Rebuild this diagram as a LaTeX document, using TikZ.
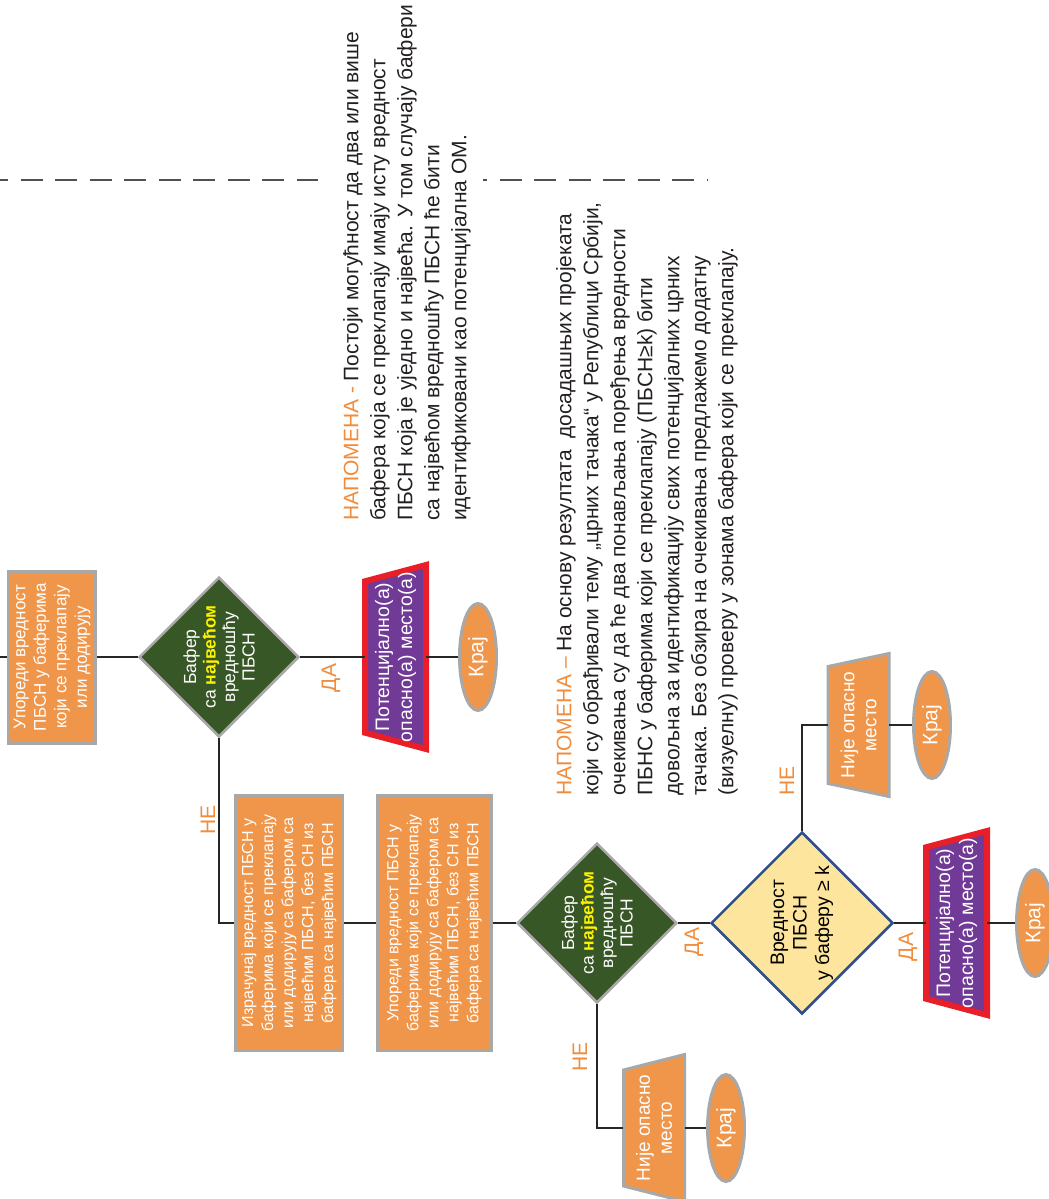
\documentclass[tikz,border=0pt]{standalone}
\usepackage{fontspec}
\setmainfont{Liberation Sans}
\usetikzlibrary{shapes.geometric,calc}
\definecolor{boxorange}{RGB}{240,150,74}
\definecolor{bordergray}{RGB}{168,168,168}
\definecolor{dgreen}{RGB}{56,87,38}
\definecolor{hlyellow}{RGB}{255,242,0}
\definecolor{lyellow}{RGB}{253,229,158}
\definecolor{navy}{RGB}{47,80,143}
\definecolor{ppurple}{RGB}{112,58,150}
\definecolor{pred}{RGB}{232,30,40}
\definecolor{lblorange}{RGB}{240,140,60}
\definecolor{notegray}{RGB}{35,31,32}
\definecolor{dashgray}{RGB}{80,80,80}
\begin{document}
\begin{tikzpicture}[x=1pt,y=-1pt,
  procbox/.style={rectangle, rotate=90, fill=boxorange, draw=bordergray, line width=3pt,
    text=white, align=center, inner sep=0pt, font=\fontsize{16}{20}\selectfont},
  greendia/.style={diamond, rotate=90, fill=dgreen, draw=bordergray, line width=2.5pt,
    inner sep=0pt, minimum width=160pt, minimum height=160pt},
  yelldia/.style={diamond, rotate=90, fill=lyellow, draw=navy, line width=2.5pt,
    inner sep=0pt, minimum width=182pt, minimum height=182pt},
  diatext/.style={rotate=90, align=center, inner sep=0pt},
  redshape/.style={fill=ppurple, draw=pred, line width=6pt, line join=miter},
  orangeshape/.style={fill=boxorange, draw=bordergray, line width=3pt, line join=miter},
  traptext/.style={rectangle, rotate=90, text=white, align=center, inner sep=0pt, minimum height=61pt},
  endell/.style={ellipse, rotate=90, fill=boxorange, draw=bordergray, line width=3pt,
    text=white, inner sep=0pt, minimum width=107pt, minimum height=37pt,
    font=\fontsize{21}{24}\selectfont},
  conn/.style={line width=1.5pt, draw=black!85},
  lbl/.style={rotate=90, text=lblorange, inner sep=0pt, font=\fontsize{21}{24}\selectfont},
  notetext/.style={rotate=90, anchor=north west, align=left, inner sep=0pt, text=notegray,
    font=\fontsize{21}{27}\selectfont},
  dashln/.style={line width=1.5pt, draw=dashgray, dash pattern=on 22pt off 12.5pt}
]
\useasboundingbox (0,0) rectangle (1049,1199);

% dashed separator
\coordinate (dA) at (0,180);
\coordinate (dB) at (318,180);
\coordinate (dC) at (483,180);
\coordinate (dD) at (707,180);
\draw[dashln, dash phase=14pt] (dA) -- (dB);
\draw[dashln, dash phase=18pt] (dC) -- (dD);

% notes
\node[notetext] (note1) at (343,521) {{\color{lblorange}НАПОМЕНА -} Постоји могућност да два или више\\
бафера која се преклапају имају исту вредност\\
ПБСН која је уједно и највећа. У том случају бафери\\
са највећом вредношћу ПБСН ће бити\\
идентификовани као потенцијална ОМ.};

\node[notetext] (note2) at (556,796) {{\color{lblorange}НАПОМЕНА –} На основу резултата\ \ досадашњих пројеката\\
који су обрађивали тему „црних тачака“ у Републици Србији,\\
очекивања су да ће два понављања поређења вредности\\
ПБНС у баферима који се преклапају (ПБСН≥k) бити\\
довољна за идентификацију свих потенцијалних црних\\
тачака. Без обзира на очекивања предлажемо додатну\\
(визуелну) проверу у зонама бафера који се преклапају.};

% trapezoid centres and outlines
\coordinate (p1c) at (395.5,657);
\coordinate (p2c) at (956.5,923);
\coordinate (t1c) at (654,1128);
\coordinate (t2c) at (858.5,725);
\draw[redshape] ($(p1c)+(-30.5,-75.7)$) -- ($(p1c)+(30.5,-92)$) -- ($(p1c)+(30.5,92)$) -- ($(p1c)+(-30.5,75.7)$) -- cycle;
\draw[redshape] ($(p2c)+(-30.5,-75.7)$) -- ($(p2c)+(30.5,-92)$) -- ($(p2c)+(30.5,92)$) -- ($(p2c)+(-30.5,75.7)$) -- cycle;
\draw[orangeshape] ($(t1c)+(-30.5,-58)$) -- ($(t1c)+(30.5,-73.5)$) -- ($(t1c)+(30.5,73.5)$) -- ($(t1c)+(-30.5,58)$) -- cycle;
\draw[orangeshape] ($(t2c)+(-30.5,-58.5)$) -- ($(t2c)+(30.5,-71.5)$) -- ($(t2c)+(30.5,71.5)$) -- ($(t2c)+(-30.5,58.5)$) -- cycle;

% upper row
\coordinate (in0) at (0,657);
\node[procbox, minimum width=172pt, minimum height=87pt, font=\fontsize{17}{20.5}\selectfont] (b1) at (52,657)
  {Упореди вредност\\ПБСН у баферима\\који се преклапају\\или додирују};
\node[greendia] (d1) at (219,657) {};
\node[diatext, text=white, font=\fontsize{17.5}{19.5}\selectfont] (d1t) at (d1)
  {Бафер\\са {\bfseries\color{hlyellow}највећом}\\вредношћу\\ПБСН};
\node[traptext, minimum width=150pt, font=\fontsize{19.5}{23}\selectfont] (p1) at (p1c)
  {Потенцијално(а)\\опасно(а) место(а)};
\node[endell] (k1) at (478,657) {Крај};

% lower row
\node[procbox, minimum width=255pt, minimum height=107pt] (b2) at (289,923)
  {Израчунај вредност ПБСН у\\баферима који се преклапају\\или додирују са бафером са\\највећим ПБСН, без СН из\\бафера са највећим ПБСН};
\node[procbox, minimum width=255pt, minimum height=114pt] (b3) at (434.5,923)
  {Упореди вредност ПБСН у\\баферима који се преклапају\\или додирују са бафером са\\највећим ПБСН, без СН из\\бафера са највећим ПБСН};
\node[greendia] (d2) at (597,923) {};
\node[diatext, text=white, font=\fontsize{17.5}{19.5}\selectfont] (d2t) at (d2)
  {Бафер\\са {\bfseries\color{hlyellow}највећом}\\вредношћу\\ПБСН};
\node[yelldia] (d3) at (802,923) {};
\node[diatext, text=black, font=\fontsize{19.5}{22.5}\selectfont] (d3t) at (d3)
  {Вредност\\ПБСН\\у баферу ≥ k};
\node[traptext, minimum width=150pt, font=\fontsize{19.5}{23}\selectfont] (p2) at (p2c)
  {Потенцијално(а)\\опасно(а) место(а)};
\node[endell] (k4) at (1035,923) {Крај};

\node[traptext, minimum width=116pt, font=\fontsize{19}{22}\selectfont] (t1) at (t1c)
  {Није опасно\\место};
\node[endell] (k2) at (726,1128) {Крај};

\node[traptext, minimum width=116pt, font=\fontsize{19}{22}\selectfont] (t2) at (t2c)
  {Није опасно\\место};
\node[endell] (k3) at (932,725) {Крај};

% connectors
\draw[conn] (in0) -- (b1);
\draw[conn] (b1) -- (d1);
\draw[conn] (d1) -- (p1);
\draw[conn] (p1) -- (k1);
\draw[conn] (d1) |- (b2);
\draw[conn] (b2) -- (b3);
\draw[conn] (b3) -- (d2);
\draw[conn] (d2) -- (d3);
\draw[conn] (d2) |- (t1);
\draw[conn] (t1) -- (k2);
\draw[conn] (d3) |- (t2);
\draw[conn] (t2) -- (k3);
\draw[conn] (d3) -- (p2);
\draw[conn] (p2) -- (k4);

% labels
\node[lbl] (lDA1) at (331,678) {ДА};
\node[lbl] (lNE1) at (208,820) {НЕ};
\node[lbl] (lDA2) at (694,942) {ДА};
\node[lbl] (lNE2) at (580,1057) {НЕ};
\node[lbl] (lNE3) at (787,781) {НЕ};
\node[lbl] (lDA3) at (908,947) {ДА};
\end{tikzpicture}
\end{document}
